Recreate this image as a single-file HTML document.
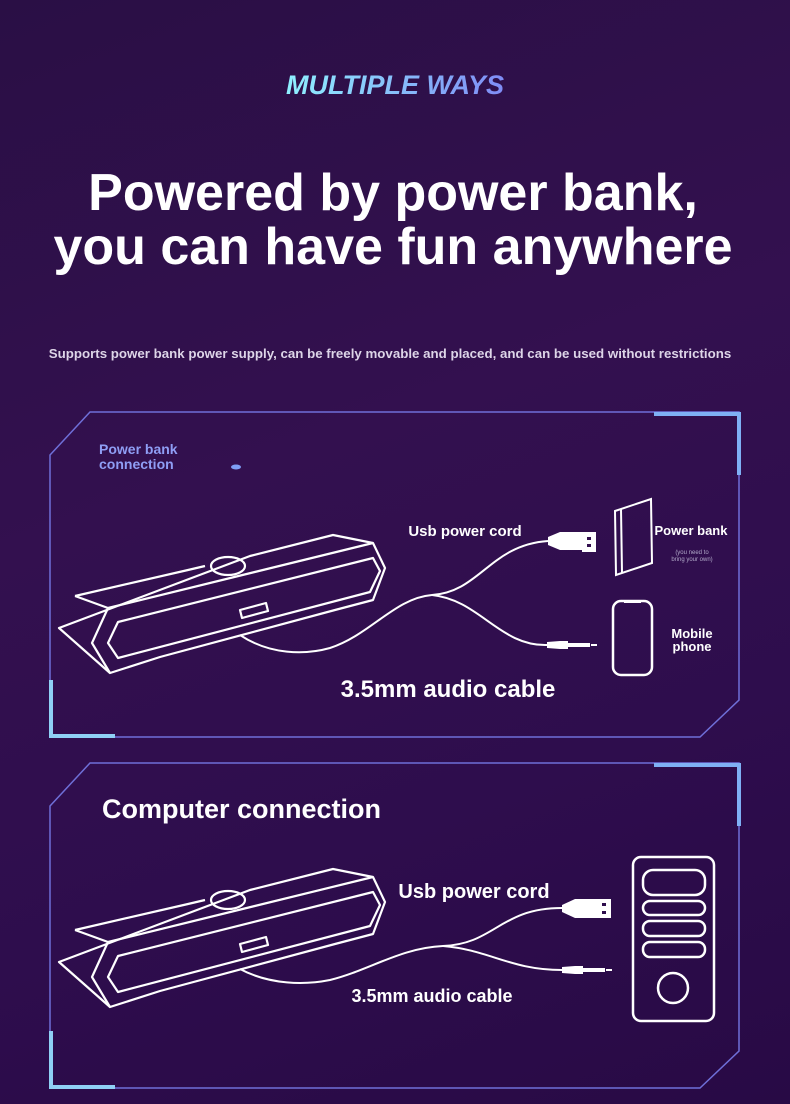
<!DOCTYPE html>
<html><head><meta charset="utf-8">
<style>
html,body{margin:0;padding:0;}
body{width:790px;height:1104px;overflow:hidden;background:linear-gradient(160deg,#2a0f45 0%,#33104f 40%,#2e0d4d 70%,#280a45 100%);font-family:"Liberation Sans",sans-serif;}
svg{position:absolute;left:0;top:0;}
</style></head><body>
<svg width="790" height="1104" viewBox="0 0 790 1104" xmlns="http://www.w3.org/2000/svg">
<defs>
<linearGradient id="tg" x1="0" x2="1"><stop offset="0" stop-color="#8ff0ff"/><stop offset="1" stop-color="#7f8cf5"/></linearGradient>
<g id="spk" fill="none" stroke="#fff" stroke-width="2.2" stroke-linejoin="round">
  <path d="M75,596 L188,570 L205,566 M250,556 L333,535 L373,543 L385,568 L373,600 L335,610 L160,657 L110,673 L59,628 Z"/>
  <path d="M75,596 L108,608 L373,543 M108,608 L92,643 L110,673"/>
  <path d="M118,622 L108,643 L118,658 L370,592 L380,571 L373,558 Z"/>
  <ellipse cx="228" cy="566" rx="17" ry="9"/>
  <path d="M240,610 L266,603 L268,611 L242,618 Z"/>
</g>
</defs>
<text x="395" y="94" text-anchor="middle" font-size="27" font-weight="bold" font-style="italic" fill="url(#tg)">MULTIPLE WAYS</text>
<text x="393" y="210" text-anchor="middle" font-size="52" font-weight="bold" fill="#fff">Powered by power bank,</text>
<text x="393" y="264" text-anchor="middle" font-size="52" font-weight="bold" fill="#fff">you can have fun anywhere</text>
<text x="390" y="358" text-anchor="middle" font-size="13.3" font-weight="bold" fill="#ddd5e8">Supports power bank power supply, can be freely movable and placed, and can be used without restrictions</text>

<!-- panel 1 -->
<path d="M50,455 L90,412 L739,412 L739,700 L700,737 L50,737 Z" fill="none" stroke="#6f6fd8" stroke-width="1.5"/>
<path d="M654,414 L739,414 L739,475" fill="none" stroke="#7fb0f5" stroke-width="4"/>
<path d="M51,680 L51,736 L115,736" fill="none" stroke="#8fd0f5" stroke-width="4"/>
<text x="99" y="454" font-size="14" font-weight="bold" fill="#8f9ef5">Power bank</text>
<text x="99" y="469" font-size="14" font-weight="bold" fill="#8f9ef5">connection</text>
<ellipse cx="236" cy="467" rx="5" ry="2.5" fill="#7f9ef5"/>
<use href="#spk"/>
<path d="M240,635 C270,655 305,655 330,648 C370,635 395,598 432,595 C480,592 490,545 548,541" fill="none" stroke="#fff" stroke-width="2"/>
<path d="M432,595 C480,600 500,647 548,645" fill="none" stroke="#fff" stroke-width="2"/>
<path d="M548,537 L560,532 L582,532 L582,550 L560,550 L548,545 Z" fill="#fff"/>
<rect x="582" y="532" width="14" height="20" fill="#fff"/><rect x="587" y="537" width="4" height="3" fill="#33104f"/><rect x="587" y="544" width="4" height="3" fill="#33104f"/>
<path d="M547,642 L560,641 L568,641 L568,649 L560,649 L547,648 Z" fill="#fff"/>
<rect x="568" y="643" width="22" height="4" fill="#fff"/><rect x="591" y="644" width="6" height="2" fill="#fff"/>
<path d="M615,511 L651,499 L652,563 L616,575 Z M621,509 L622,573" fill="none" stroke="#fff" stroke-width="2"/>
<text x="691" y="535" text-anchor="middle" font-size="13" font-weight="bold" fill="#fff">Power bank</text>
<text x="692" y="554" text-anchor="middle" font-size="6" fill="#b0a8c8">(you need to</text>
<text x="692" y="561" text-anchor="middle" font-size="6" fill="#b0a8c8">bring your own)</text>
<rect x="613" y="601" width="39" height="74" rx="8" fill="none" stroke="#fff" stroke-width="2.5"/>
<path d="M624,602 L641,602" stroke="#fff" stroke-width="2"/>
<text x="692" y="638" text-anchor="middle" font-size="13" font-weight="bold" fill="#fff">Mobile</text>
<text x="692" y="651" text-anchor="middle" font-size="13" font-weight="bold" fill="#fff">phone</text>
<text x="465" y="536" text-anchor="middle" font-size="15" font-weight="bold" fill="#fff">Usb power cord</text>
<text x="448" y="697" text-anchor="middle" font-size="24" font-weight="bold" fill="#fff">3.5mm audio cable</text>

<!-- panel 2 -->
<path d="M50,806 L90,763 L739,763 L739,1051 L700,1088 L50,1088 Z" fill="none" stroke="#6f6fd8" stroke-width="1.5"/>
<path d="M654,765 L739,765 L739,826" fill="none" stroke="#7fb0f5" stroke-width="4"/>
<path d="M51,1031 L51,1087 L115,1087" fill="none" stroke="#8fd0f5" stroke-width="4"/>
<text x="102" y="818" font-size="27" font-weight="bold" fill="#fff">Computer connection</text>
<use href="#spk" transform="translate(0,334)"/>
<path d="M240,969 C270,985 305,985 330,980 C370,970 400,948 443,946 C495,944 500,908 562,908" fill="none" stroke="#fff" stroke-width="2"/>
<path d="M443,946 C490,950 510,970 562,970" fill="none" stroke="#fff" stroke-width="2"/>
<path d="M562,905 L575,899 L597,899 L597,918 L575,918 L562,912 Z" fill="#fff"/>
<rect x="597" y="899" width="14" height="19" fill="#fff"/><rect x="602" y="903" width="4" height="3" fill="#2e0d4d"/><rect x="602" y="911" width="4" height="3" fill="#2e0d4d"/>
<path d="M562,967 L575,966 L583,966 L583,974 L575,974 L562,973 Z" fill="#fff"/>
<rect x="583" y="968" width="22" height="4" fill="#fff"/><rect x="606" y="969" width="6" height="2" fill="#fff"/>
<rect x="633" y="857" width="81" height="164" rx="8" fill="none" stroke="#fff" stroke-width="2.5"/>
<g fill="none" stroke="#fff" stroke-width="2.5">
<rect x="643" y="870" width="62" height="25" rx="10"/>
<rect x="643" y="901" width="62" height="14" rx="7"/>
<rect x="643" y="921" width="62" height="15" rx="7"/>
<rect x="643" y="942" width="62" height="15" rx="7"/>
<circle cx="673" cy="988" r="15"/>
</g>
<text x="474" y="898" text-anchor="middle" font-size="20" font-weight="bold" fill="#fff">Usb power cord</text>
<text x="432" y="1002" text-anchor="middle" font-size="18" font-weight="bold" fill="#fff">3.5mm audio cable</text>
</svg>
</body></html>
